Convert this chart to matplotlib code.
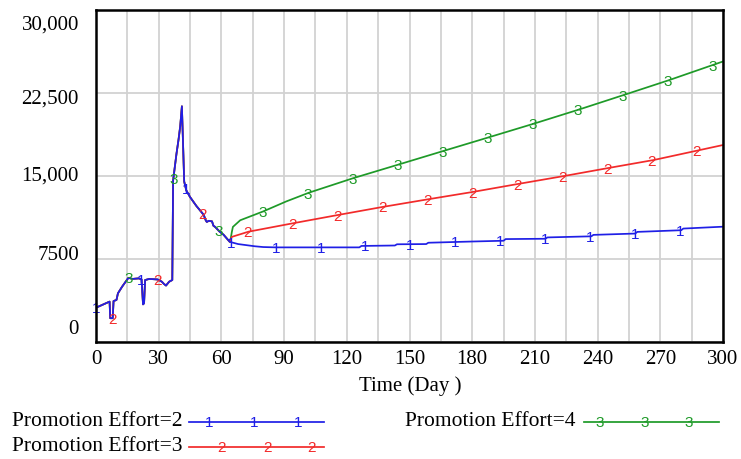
import numpy as np
import matplotlib
matplotlib.use("Agg")
import matplotlib.pyplot as plt
from matplotlib.lines import Line2D
from matplotlib.transforms import ScaledTranslation

# shared history (all three runs are identical up to day 64)
days_common = [0, 6.5, 6.8, 8.0, 8.4, 9.8, 10.5, 12.5, 15.5, 17.5, 20.5, 21.8, 22.5, 23.0, 23.5,
               25.5, 29.5, 31.5, 32.5, 33.5, 35, 36.5, 36.9, 38.5, 39.5, 40.3, 41.1, 42.2, 43.2,
               45, 48, 51.5, 52.5, 53, 54, 55.5, 56.2, 57, 59, 61, 64]
sales_common = [3100, 3650, 2150, 2150, 3700, 3800, 4400, 5000, 5800, 5700, 5750, 5650, 3400, 3500, 5600,
                5700, 5650, 5450, 5250, 5100, 5450, 5600, 14600, 17000, 18300, 19500, 21300, 14500, 13700,
                13100, 12300, 11500, 11000, 10850, 10950, 10900, 10500, 10400, 10000, 9700, 9050]

# Promotion Effort=2
days_e2 = [66, 68, 72, 76, 80, 86, 126, 127, 143, 144, 158, 159, 180, 195, 196, 215, 216,
           237, 238, 258, 259, 280, 281, 300]
sales_e2 = [8950, 8850, 8750, 8650, 8580, 8550, 8550, 8680, 8720, 8830, 8850, 8970, 9080, 9150, 9300,
            9330, 9450, 9550, 9680, 9800, 9950, 10100, 10250, 10420]

# Promotion Effort=3
days_e3 = [65, 73, 94, 115, 137, 159, 180, 201, 224, 246, 267, 289, 300]
sales_e3 = [9500, 9970, 10720, 11450, 12200, 12900, 13550, 14250, 15000, 15750, 16450, 17350, 17800]

# Promotion Effort=4
days_e4 = [64.5, 65, 65.5, 69, 80, 91, 102, 123, 145, 166, 188, 209, 231, 253, 274, 300]
sales_e4 = [9400, 9950, 10400, 11000, 11800, 12700, 13500, 14800, 16050, 17250, 18500, 19700,
            21000, 22350, 23650, 25350]

labels = ["Promotion Effort=2", "Promotion Effort=3", "Promotion Effort=4"]
marker_chars = ["1", "2", "3"]
marker_offsets = [0, 8, 15.5]
marker_step = 21.5
colors = ["#1f1fe6", "#f22a2a", "#1e9a28"]

x_ticks = [0, 30, 60, 90, 120, 150, 180, 210, 240, 270, 300]
y_ticks = [0, 7500, 15000, 22500, 30000]
y_tick_labels = ["0", "7500", "15,000", "22,500", "30,000"]

W, H = 741, 459
fig = plt.figure(figsize=(W / 100, H / 100), dpi=100)
ax = fig.add_axes([96 / W, 1 - 342 / H, (723 - 96) / W, (342 - 10) / H])

serif = "Liberation Serif"
sans = "Liberation Sans"
mk_size = 11

series = []
for d, s in [(days_e2, sales_e2), (days_e3, sales_e3), (days_e4, sales_e4)]:
    series.append((np.array(days_common + d), np.array(sales_common + s)))

# green, red, then blue on top
for i in [2, 1, 0]:
    t, v = series[i]
    ax.plot(t, v, color=colors[i], lw=1.25, zorder=3)

# number markers along each line
for i, (t, v) in enumerate(series):
    for m in np.arange(marker_offsets[i], 300.01, marker_step):
        ax.text(m, np.interp(m, t, v), marker_chars[i], color=colors[i], fontsize=mk_size,
                family=sans, ha="center", va="center_baseline", zorder=5)

ax.set_xlim(0, 300)
ax.set_ylim(0, 30000)
ax.set_xticks(np.arange(0, 301, 15))
ax.set_yticks(y_ticks)
ax.grid(True, color="#d2d2d2", lw=1.3, zorder=0)
ax.set_axisbelow(True)
ax.set_xticklabels([str(x) if x in x_ticks else "" for x in range(0, 301, 15)],
                   family=serif, fontsize=15)
ax.tick_params(axis="both", length=0)
ax.tick_params(axis="x", pad=6)
ax.set_yticklabels([])
for sp in ax.spines.values():
    sp.set_linewidth(1.8)
    sp.set_color("black")
    sp.set_zorder(6)

# y labels sit a bit off their grid lines, like the original
y_label_shift = [-12, -4, 0, 6, 15]
for val, lab, sh in zip(y_ticks, y_tick_labels, y_label_shift):
    tr = ax.get_yaxis_transform() + ScaledTranslation(-17 / 100, -sh / 100, fig.dpi_scale_trans)
    ax.text(0, val, lab, transform=tr, ha="right", va="center", family=serif, fontsize=15)

fig.text(410 / W, 1 - 386 / H, "Time (Day )", ha="center", va="center", family=serif, fontsize=15)

# legend drawn by hand
legend_rows = [(12, 421.5, 189, 324, [209, 254, 298]),
               (12, 446.5, 189, 324, [221, 267, 312]),
               (405, 421.5, 584, 719, [600, 645, 689])]
for i, (tx, ty, x0, x1, mxs) in enumerate(legend_rows):
    fy = 1 - ty / H
    fig.text(tx / W, fy, labels[i], ha="left", va="center", family=serif, fontsize=15.5)
    fig.add_artist(Line2D([x0 / W, x1 / W], [fy, fy], color=colors[i], lw=1.25,
                          transform=fig.transFigure))
    for mx in mxs:
        fig.text(mx / W, fy, marker_chars[i], color=colors[i], fontsize=mk_size, family=sans,
                 ha="center", va="center_baseline")

fig.savefig("out.png", dpi=100)
